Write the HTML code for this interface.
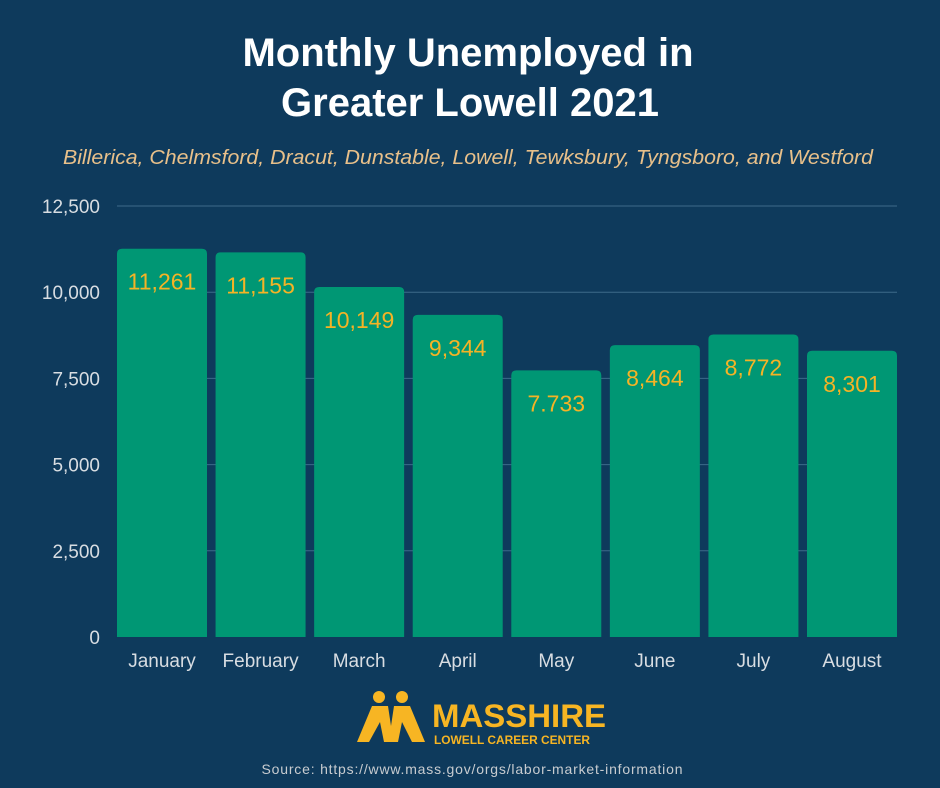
<!DOCTYPE html>
<html><head><meta charset="utf-8"><style>
body{margin:0;background:#0e3a5c;width:940px;height:788px;overflow:hidden;font-family:"Liberation Sans",sans-serif}
svg{display:block}
</style></head><body>
<svg width="940" height="788">
<rect width="940" height="788" fill="#0e3a5c"/>
<text x="468" y="66" text-anchor="middle" font-size="40" font-weight="bold" fill="#fff">Monthly Unemployed in</text>
<text x="470" y="116" text-anchor="middle" font-size="40" font-weight="bold" fill="#fff">Greater Lowell 2021</text>
<text x="468" y="164" text-anchor="middle" font-size="20" font-style="italic" fill="#e8c08a" textLength="810" lengthAdjust="spacingAndGlyphs">Billerica, Chelmsford, Dracut, Dunstable, Lowell, Tewksbury, Tyngsboro, and Westford</text>
<g id="grid"></g><g id="bars"></g>
<g fill="#f7b523">
<circle cx="379" cy="697" r="6"/><circle cx="402" cy="697" r="6"/>
<polygon points="372,706 388,706 391,726 394,706 410,706 425,742 412,742 402,722 398,742 384,742 380,722 369,742 357,742"/>
<text x="432" y="727" font-size="32" font-weight="bold" textLength="174" lengthAdjust="spacingAndGlyphs">MASSHIRE</text>
<text x="434" y="744" font-size="12" font-weight="bold" textLength="156" lengthAdjust="spacingAndGlyphs">LOWELL CAREER CENTER</text>
</g>
<text x="472" y="774" text-anchor="middle" font-size="14" fill="#c8ccd0" textLength="421" lengthAdjust="spacing">Source:  https://www.mass.gov/orgs/labor-market-information</text>
</svg>
<script>
const categories=["January","February","March","April","May","June","July","August"];
const values=[11261,11155,10149,9344,7733,8464,8772,8301];
const valueLabels=["11,261","11,155","10,149","9,344","7.733","8,464","8,772","8,301"];
const ticks=[0,2500,5000,7500,10000,12500];
const tickLabels=["0","2,500","5,000","7,500","10,000","12,500"];
const NS="http://www.w3.org/2000/svg";
const x0=117,x1=897,y0=637,yTop=206,max=12500;
const y=v=>y0-(v/max)*(y0-yTop);
const bw=90;
function mk(t,a,p){const e=document.createElementNS(NS,t);for(const k in a)e.setAttribute(k,a[k]);p.appendChild(e);return e;}
const g=document.getElementById('grid');
ticks.forEach((t,i)=>{
 if(t>0){const l=mk('line',{x1:x0,x2:x1,y1:y(t),y2:y(t),stroke:'#3d6a8a','stroke-width':1},g);
 
 }
 const tx=mk('text',{x:100,y:y(t)+7,'text-anchor':'end','font-size':19,fill:'#d8dde2'},g);
 tx.textContent=tickLabels[i];
 
 
});
const b=document.getElementById('bars');
const step=(x1-x0-bw)/(categories.length-1);
categories.forEach((c,i)=>{
 const bx=x0+i*step, by=y(values[i]);
 const r=mk('path',{d:`M${bx},${y0}V${by+5}Q${bx},${by} ${bx+5},${by}H${bx+bw-5}Q${bx+bw},${by} ${bx+bw},${by+5}V${y0}Z`,fill:'#009774'},b);
 
 
 const vl=mk('text',{x:bx+bw/2,y:by+41,'text-anchor':'middle','font-size':23,fill:'#f5b325'},b);
 vl.textContent=valueLabels[i];
 
 
 const cl=mk('text',{x:bx+bw/2,y:667,'text-anchor':'middle','font-size':19,fill:'#d8dde2'},b);
 cl.textContent=c;
 
 
});
</script>
</body></html>
